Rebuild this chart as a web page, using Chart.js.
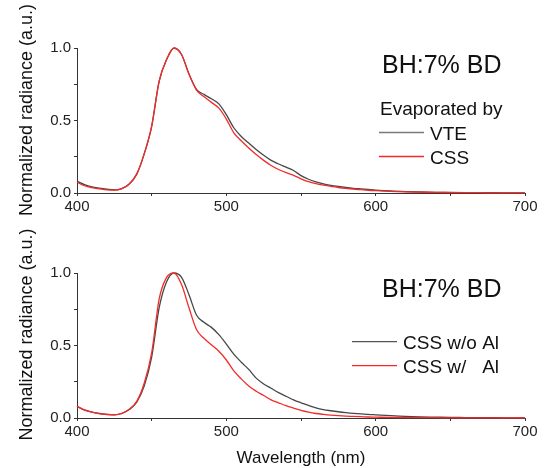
<!DOCTYPE html>
<html>
<head>
<meta charset="utf-8">
<script src="https://cdn.jsdelivr.net/npm/chart.js@4"></script>
<style>
  body { margin: 0; background: #fff; }
  canvas { position: absolute; left: 0; }
</style>
</head>
<body>
<canvas id="topChart" width="547" height="220" style="top:0"></canvas>
<canvas id="bottomChart" width="547" height="248" style="top:220px"></canvas>
<script>
// wavelength grid (nm)
const wavelengths = [400,405,410,415,420,425,430,435,440,445,450,455,460,465,470,475,480,485,490,495,
  500,505,510,515,520,525,530,535,540,545,550,555,560,565,570,575,580,585,590,595,
  600,610,620,630,640,650,660,670,680,690,700];

// top panel: evaporation method
const vteTop = [0.082,0.058,0.042,0.033,0.026,0.021,0.030,0.062,0.13,0.27,0.46,0.77,0.92,1.0,0.955,0.82,0.715,0.68,0.65,0.615,
  0.54,0.45,0.39,0.345,0.30,0.26,0.225,0.20,0.178,0.155,0.12,0.095,0.077,0.063,0.053,0.045,0.038,0.032,0.028,0.024,
  0.020,0.014,0.010,0.007,0.005,0.004,0.003,0.002,0.002,0.001,0.001];
const cssTop = [0.074,0.050,0.037,0.029,0.022,0.020,0.030,0.062,0.13,0.27,0.46,0.77,0.92,1.0,0.955,0.82,0.71,0.665,0.625,0.585,
  0.51,0.415,0.36,0.31,0.265,0.225,0.19,0.162,0.14,0.122,0.098,0.078,0.064,0.054,0.046,0.038,0.032,0.027,0.023,0.019,
  0.016,0.011,0.008,0.006,0.004,0.003,0.002,0.002,0.001,0.001,0.001];

// bottom panel: with / without Al
const cssNoAl = [0.08,0.056,0.041,0.031,0.025,0.022,0.031,0.058,0.11,0.22,0.42,0.76,0.94,1.0,0.97,0.85,0.71,0.66,0.625,0.575,
  0.51,0.44,0.385,0.335,0.275,0.235,0.205,0.175,0.15,0.125,0.105,0.087,0.07,0.058,0.05,0.043,0.037,0.032,0.029,0.025,
  0.022,0.016,0.011,0.008,0.006,0.004,0.003,0.002,0.002,0.001,0.001];
const cssAl = [0.08,0.055,0.04,0.03,0.024,0.022,0.032,0.06,0.115,0.24,0.45,0.82,0.97,1.0,0.92,0.76,0.61,0.55,0.505,0.46,
  0.40,0.325,0.27,0.22,0.185,0.155,0.125,0.105,0.085,0.068,0.052,0.04,0.031,0.025,0.02,0.016,0.013,0.011,0.009,0.007,
  0.006,0.004,0.003,0.002,0.002,0.001,0.001,0.001,0.001,0.001,0.001];

const xLabels = [400, 500, 600, 700];
const yLabels = [0.0, 0.5, 1.0];

const grey = "#474747";
const red = "#f42a2a";
const font = "Liberation Sans, Arial, sans-serif";

function pts(ys) {
  return wavelengths.map((x, i) => ({ x: x, y: ys[i] }));
}

// texts, legend and axis titles drawn on top
function textPlugin(cfg) {
  return {
    id: "texts",
    afterDraw(chart) {
      const ctx = chart.ctx;
      const area = chart.chartArea;
      ctx.save();
      ctx.fillStyle = "#111";
      ctx.textBaseline = "alphabetic";
      ctx.textAlign = "left";
      ctx.font = "25px " + font;
      ctx.fillText("BH:7% BD", 382, cfg.titleY);
      ctx.font = "19px " + font;
      if (cfg.heading) ctx.fillText(cfg.heading, 380, cfg.headingY);
      chart.data.datasets.forEach((ds, i) => {
        const y = cfg.legendY + i * cfg.legendGap;
        ctx.strokeStyle = ds.legendColor;
        ctx.lineWidth = 1.3;
        ctx.beginPath();
        ctx.moveTo(cfg.lineX0, y);
        ctx.lineTo(cfg.lineX1, y);
        ctx.stroke();
        ctx.fillText(ds.label, cfg.lineX1 + 6, y + 7);
      });
      // y title
      ctx.save();
      ctx.translate(32, 110 + cfg.yTitleShift);
      ctx.rotate(-Math.PI / 2);
      ctx.textAlign = "center";
      ctx.font = "18px " + font;
      ctx.fillText("Normalized radiance (a.u.)", 0, 0);
      ctx.restore();
      if (cfg.xTitle) {
        ctx.textAlign = "center";
        ctx.font = "17px " + font;
        ctx.fillText(cfg.xTitle, (area.left + area.right) / 2, cfg.xTitleY);
      }
      ctx.restore();
    }
  };
}

function makeChart(id, series, cfg) {
  new Chart(document.getElementById(id), {
    type: "line",
    data: {
      datasets: series.map((s) => ({
        label: s.label,
        data: pts(s.values),
        borderColor: s.color,
        legendColor: s.legendColor,
        borderWidth: 1.3,
        pointRadius: 0,
        cubicInterpolationMode: "monotone",
        order: s.order,
        clip: false
      }))
    },
    options: {
      responsive: false,
      animation: false,
      layout: { padding: { top: cfg.padTop, right: 22, left: 0, bottom: 0 } },
      plugins: { legend: { display: false }, tooltip: { enabled: false } },
      scales: {
        x: {
          type: "linear",
          min: 400,
          max: 700,
          afterFit: (s) => { s.height = cfg.xHeight; },
          border: { display: true, color: "#333", width: 1 },
          grid: { drawOnChartArea: false, drawTicks: true, tickLength: 3, color: "#333" },
          ticks: {
            stepSize: 50,
            padding: 2,
            color: "#222",
            font: { family: font, size: 15 },
            maxRotation: 0,
            callback: (v) => (xLabels.includes(v) ? String(v) : "")
          }
        },
        y: {
          min: 0,
          max: 1,
          afterFit: (s) => { s.width = 77; },
          border: { display: true, color: "#333", width: 1 },
          grid: { drawOnChartArea: false, drawTicks: true, tickLength: 3, color: "#333" },
          ticks: {
            stepSize: 0.25,
            padding: 3,
            color: "#222",
            font: { family: font, size: 15 },
            callback: (v) => (yLabels.includes(v) ? v.toFixed(1) : "")
          }
        }
      }
    },
    plugins: [textPlugin(cfg)]
  });
}

makeChart("topChart", [
  { label: "VTE", values: vteTop, color: grey, legendColor: "#7a7a7a", order: 1 },
  { label: "CSS", values: cssTop, color: red, legendColor: red, order: 0 }
], {
  padTop: 48, xHeight: 27, titleY: 73, heading: "Evaporated by", headingY: 115,
  legendY: 132.5, legendGap: 24, lineX0: 379, lineX1: 424, yTitleShift: 0
});

makeChart("bottomChart", [
  { label: "CSS w/o Al", values: cssNoAl, color: grey, legendColor: "#555", order: 1 },
  { label: "CSS w/   Al", values: cssAl, color: red, legendColor: red, order: 0 }
], {
  padTop: 53, xHeight: 50, titleY: 77, legendY: 121.7, legendGap: 24, lineX0: 352, lineX1: 397,
  yTitleShift: 4.5, xTitle: "Wavelength (nm)", xTitleY: 243
});
</script>
</body>
</html>
